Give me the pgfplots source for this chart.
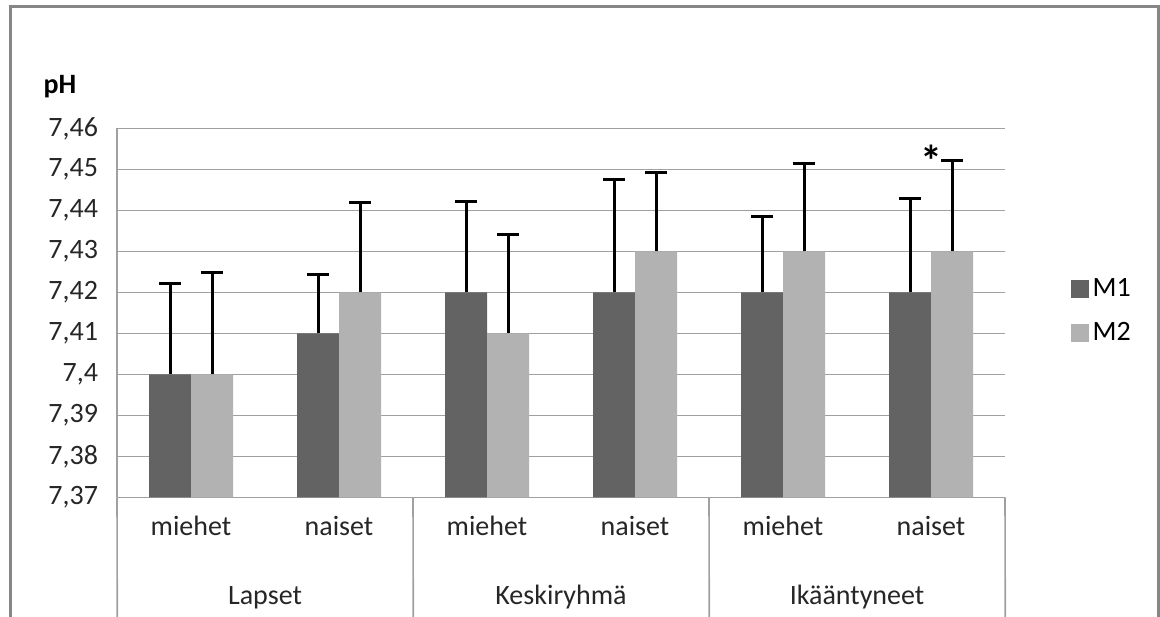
\documentclass[border=0pt]{standalone}
\usepackage{pgfplots}
\pgfplotsset{compat=1.18}
\usepackage{fontspec}
\setmainfont{Carlito}
\definecolor{mone}{RGB}{99,99,99}
\definecolor{mtwo}{RGB}{178,178,178}
\definecolor{gridc}{RGB}{160,160,160}
\definecolor{framec}{RGB}{134,134,134}
\begin{document}
\begin{tikzpicture}
\useasboundingbox (0,0) rectangle (580bp,308.5bp);
\draw[framec, line width=1.5bp] (5.25bp,0) -- (5.25bp,305bp) -- (579.25bp,305bp) -- (579.25bp,0);
\node[font=\fontsize{14bp}{16bp}\selectfont\bfseries] at (30bp,265bp) {pH};
\begin{axis}[
  at={(58.5bp,60bp)}, anchor=south west,
  scale only axis, width=444bp, height=184.5bp,
  ybar=0pt, bar width=21bp,
  xmin=-0.5, xmax=5.5, ymin=7.37, ymax=7.46,
  xtick={0,1,2,3,4,5}, xticklabels={miehet,naiset,miehet,naiset,miehet,naiset},
  ytick={7.37,7.38,7.39,7.40,7.41,7.42,7.43,7.44,7.45,7.46},
  yticklabels={{7,37},{7,38},{7,39},{7,4},{7,41},{7,42},{7,43},{7,44},{7,45},{7,46}},
  tick label style={font=\fontsize{14bp}{16bp}\selectfont, text=black!85},
  xticklabel style={yshift=-6bp},
  yticklabel style={xshift=-6bp},
  major tick length=0pt,
  ymajorgrids, grid style={gridc, line width=0.8bp},
  axis x line*=bottom, axis y line*=left,
  axis line style={gridc, line width=0.8bp, -},
  clip=false,
  legend style={at={(1.11,0.504)}, anchor=center, draw=none, fill=none,
    font=\fontsize{14bp}{16bp}\selectfont, row sep=7.5bp,
    legend cell align=left},
  legend image code/.code={\fill[#1] (0bp,-4.5bp) rectangle (9bp,4.5bp);},
]
\addplot[fill=mone, draw=none,
  error bars/.cd, y dir=plus, y explicit,
  error bar style={black, line width=1.5bp},
  error mark options={black, line width=1.5bp, mark size=5.5bp, rotate=90}]
  coordinates {
  (0,7.40) +- (0,0.0221)
  (1,7.41) +- (0,0.0143)
  (2,7.42) +- (0,0.0221)
  (3,7.42) +- (0,0.0276)
  (4,7.42) +- (0,0.0185)
  (5,7.42) +- (0,0.0230)
  };
\addplot[fill=mtwo, draw=none,
  error bars/.cd, y dir=plus, y explicit,
  error bar style={black, line width=1.5bp},
  error mark options={black, line width=1.5bp, mark size=5.5bp, rotate=90}]
  coordinates {
  (0,7.40) +- (0,0.0249)
  (1,7.42) +- (0,0.0220)
  (2,7.41) +- (0,0.0240)
  (3,7.43) +- (0,0.0193)
  (4,7.43) +- (0,0.0214)
  (5,7.43) +- (0,0.0221)
  };
\legend{M1,M2}
\node[anchor=base, inner sep=0pt, font=\fontsize{22bp}{24bp}\selectfont\bfseries] at (axis cs:5,7.4483) {*};
\draw[gridc, line width=0.8bp] (axis cs:-0.5,7.37) -- ++(0,-60bp);
\draw[gridc, line width=0.8bp] (axis cs:1.5,7.37) -- ++(0,-60bp);
\draw[gridc, line width=0.8bp] (axis cs:3.5,7.37) -- ++(0,-60bp);
\draw[gridc, line width=0.8bp] (axis cs:5.5,7.37) -- ++(0,-60bp);
\node[font=\fontsize{14bp}{16bp}\selectfont, text=black!85] at ([yshift=-50bp]axis cs:0.5,7.37) {Lapset};
\node[font=\fontsize{14bp}{16bp}\selectfont, text=black!85] at ([yshift=-50bp]axis cs:2.5,7.37) {Keskiryhmä};
\node[font=\fontsize{14bp}{16bp}\selectfont, text=black!85] at ([yshift=-50bp]axis cs:4.5,7.37) {Ikääntyneet};
\end{axis}
\end{tikzpicture}
\end{document}
